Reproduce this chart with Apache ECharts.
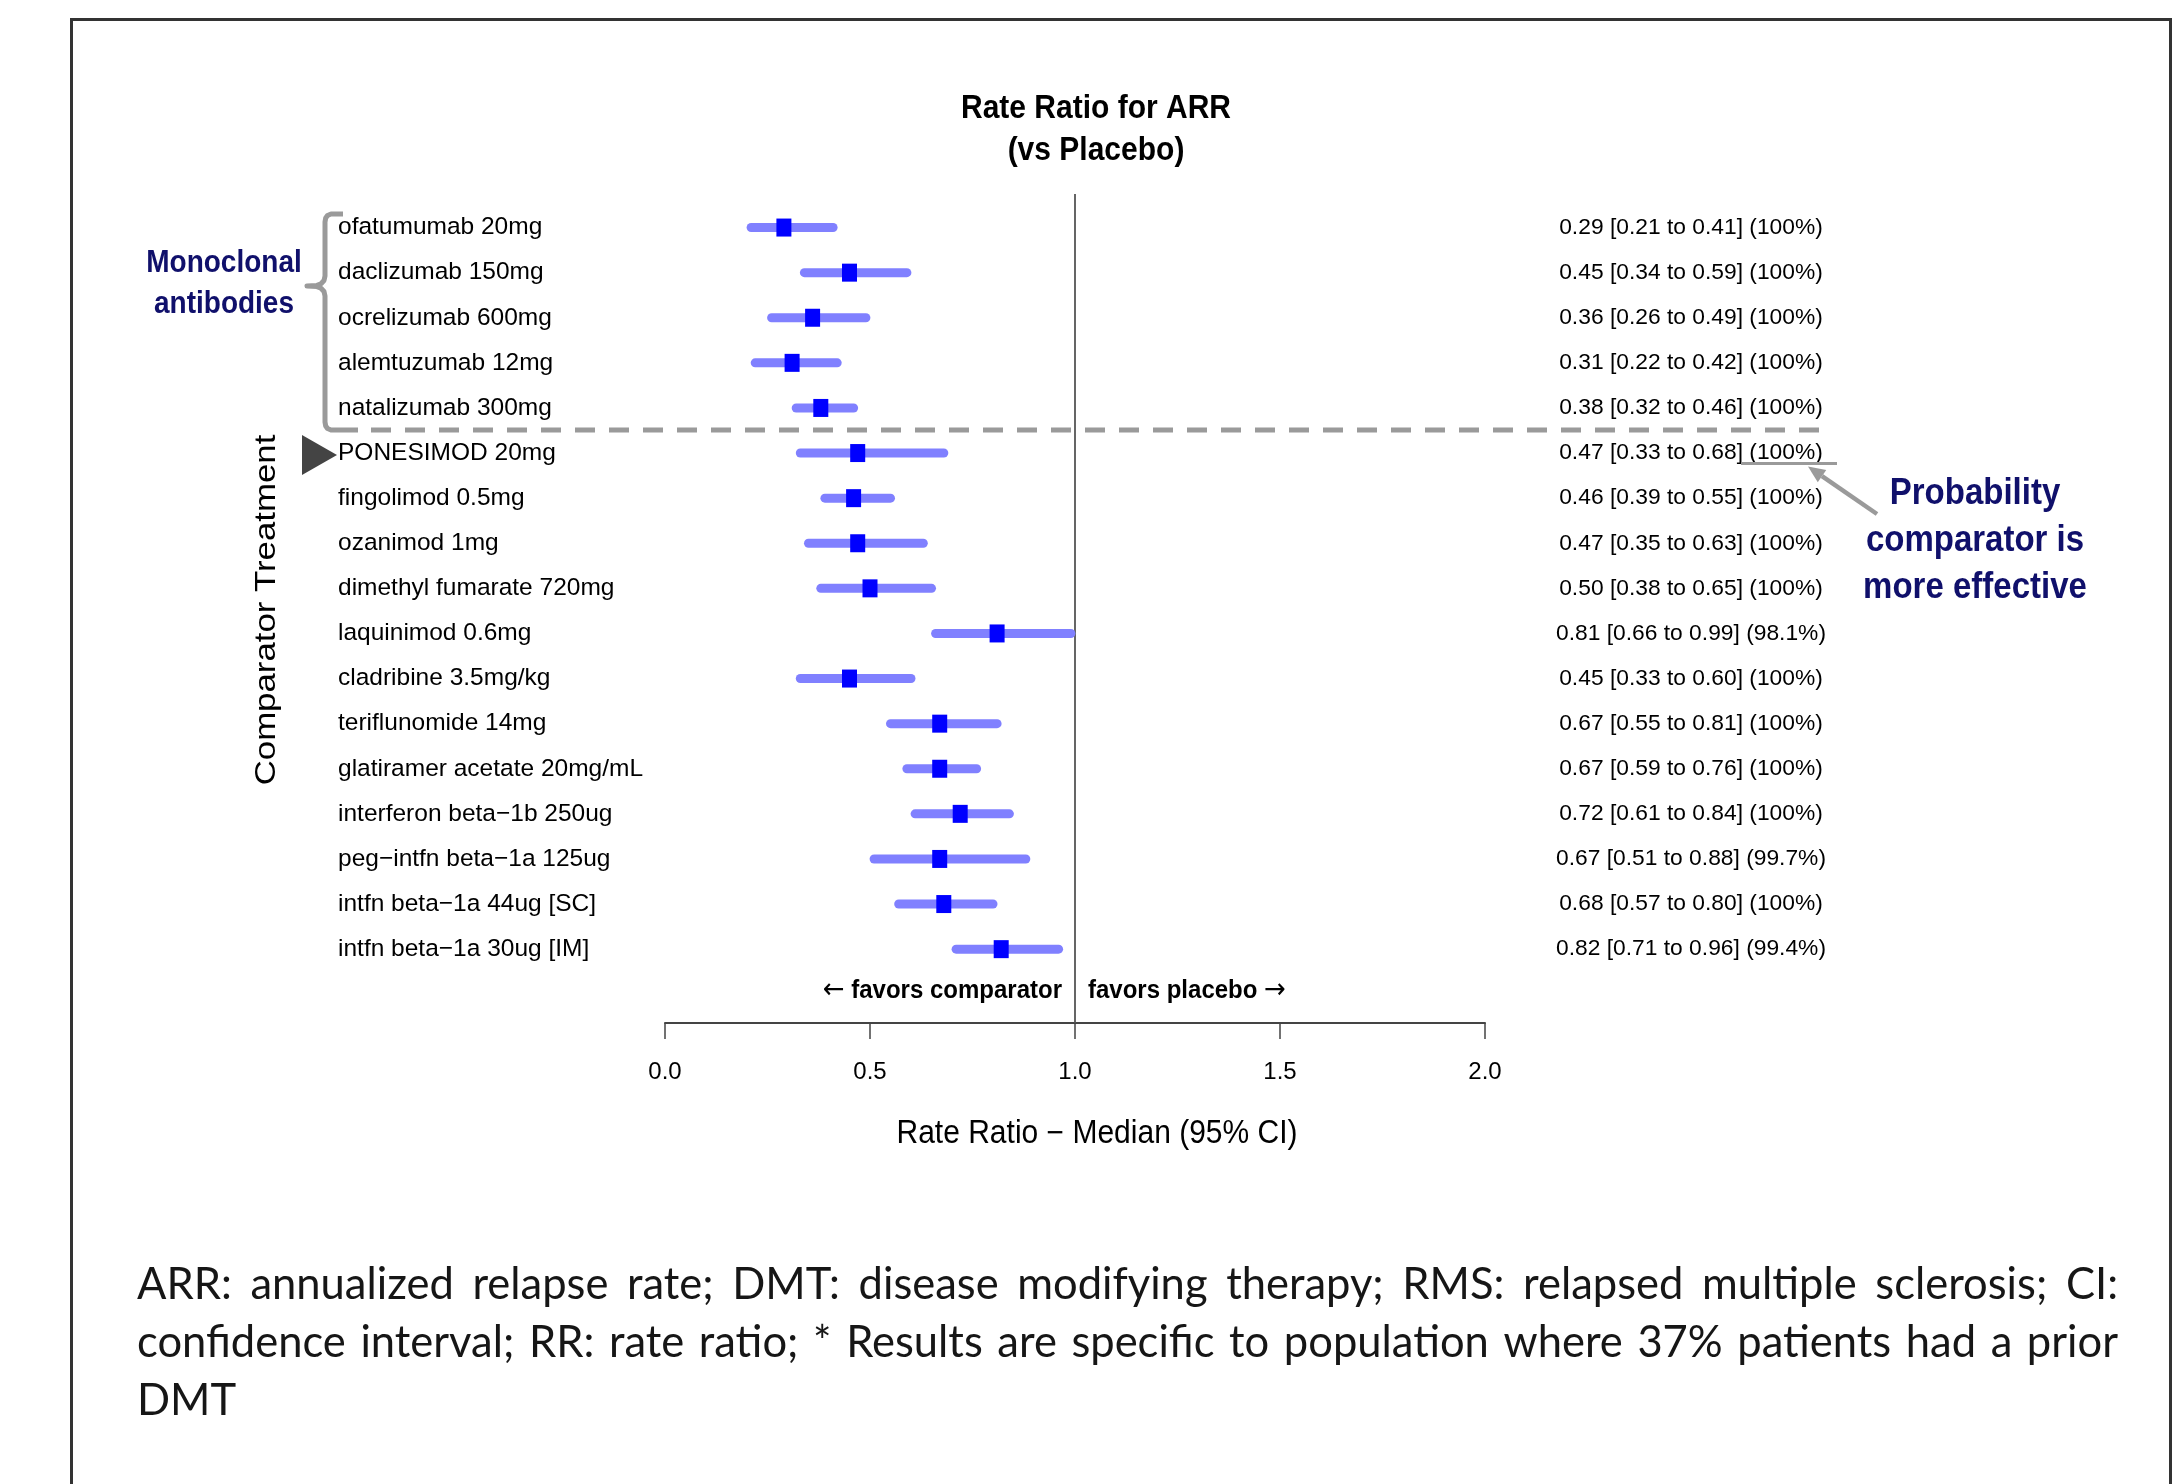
<!DOCTYPE html>
<html>
<head>
<meta charset="utf-8">
<script src="https://cdn.jsdelivr.net/npm/echarts@6/dist/echarts.min.js"></script>
<style>
html,body{margin:0;padding:0;background:#fff;}
#chart{width:2178px;height:1484px;}
</style>
</head>
<body>
<div id="chart"></div>
<script>
// ---------------- data ----------------
const treatments = [
  'ofatumumab 20mg',
  'daclizumab 150mg',
  'ocrelizumab 600mg',
  'alemtuzumab 12mg',
  'natalizumab 300mg',
  'PONESIMOD 20mg',
  'fingolimod 0.5mg',
  'ozanimod 1mg',
  'dimethyl fumarate 720mg',
  'laquinimod 0.6mg',
  'cladribine 3.5mg/kg',
  'teriflunomide 14mg',
  'glatiramer acetate 20mg/mL',
  'interferon beta\u22121b 250ug',
  'peg\u2212intfn beta\u22121a 125ug',
  'intfn beta\u22121a 44ug [SC]',
  'intfn beta\u22121a 30ug [IM]'
];
const medians = [0.29,0.45,0.36,0.31,0.38,0.47,0.46,0.47,0.50,0.81,0.45,0.67,0.67,0.72,0.67,0.68,0.82];
const lower   = [0.21,0.34,0.26,0.22,0.32,0.33,0.39,0.35,0.38,0.66,0.33,0.55,0.59,0.61,0.51,0.57,0.71];
const upper   = [0.41,0.59,0.49,0.42,0.46,0.68,0.55,0.63,0.65,0.99,0.60,0.81,0.76,0.84,0.88,0.80,0.96];
const probBetter = ['100%','100%','100%','100%','100%','100%','100%','100%','100%','98.1%','100%','100%','100%','100%','99.7%','100%','99.4%'];
const xTicks = [0.0, 0.5, 1.0, 1.5, 2.0];
const refValue = 1.0;

const footLines = [
  'ARR: annualized relapse rate; DMT: disease modifying therapy; RMS: relapsed multiple sclerosis; CI:',
  'confidence interval; RR: rate ratio; * Results are specific to population where 37% patients had a prior',
  'DMT'
];

// ---------------- derived ----------------
const rightLabels = medians.map((m, i) =>
  m.toFixed(2) + ' [' + lower[i].toFixed(2) + ' to ' + upper[i].toFixed(2) + '] (' + probBetter[i] + ')');

const FONT = '"Liberation Sans", Arial, Helvetica, sans-serif';
const NAVY = '#10106b';
const GRAY = '#9a9a9a';

const chart = echarts.init(document.getElementById('chart'), null, {renderer: 'canvas'});

const gridTop = 205, rowH = 45.1, nRows = treatments.length;
const gridBottomPx = gridTop + rowH * nRows;
const axisY = 1023;

function txt(text, x, y, opt) {
  const o = Object.assign({size: 24, weight: 'normal', color: '#000', align: 'center', valign: 'middle', family: FONT, lineHeight: null}, opt || {});
  const st = {
    text: text, x: 0, y: 0,
    fontSize: o.size, fontWeight: o.weight, fontFamily: o.family,
    fill: o.color,
    textAlign: o.align, align: o.align,
    textVerticalAlign: o.valign, verticalAlign: o.valign
  };
  if (o.lineHeight) st.lineHeight = o.lineHeight;
  if (o.rich) st.rich = o.rich;
  const el = {type: 'text', x: x, y: y, style: st, z: 100};
  if (o.rotation) el.rotation = o.rotation;
  if (o.scaleX) el.scaleX = o.scaleX;
  if (o.scaleY) el.scaleY = o.scaleY;
  return el;
}

// footnote, justified like the reference
const footFamily = 'Lato, "Open Sans", sans-serif';
const fx0 = 137, fx1 = 2118;
const cnv = document.createElement('canvas').getContext('2d');
function measure(s, size) { cnv.font = size + 'px ' + footFamily; return cnv.measureText(s).width; }
let footSize = 43.5;
while (measure(footLines[1], footSize) > (fx1 - fx0) - 8 && footSize > 20) footSize -= 0.5;
const footY = [1285, 1343, 1401];
const footEls = [];
footLines.forEach((line, li) => {
  const words = line.split(' ');
  const ws = words.map(w => measure(w, footSize));
  const sum = ws.reduce((a, b) => a + b, 0);
  const justify = li < footLines.length - 1 && words.length > 1;
  const gap = justify ? (fx1 - fx0 - sum) / (words.length - 1) : measure(' ', footSize);
  let x = fx0;
  words.forEach((w, wi) => {
    footEls.push(txt(w, x, footY[li], {size: footSize, family: footFamily, color: '#161616', align: 'left'}));
    x += ws[wi] + gap;
  });
});

// arrow geometry for annotation
const tip = [1808, 466.5], tail = [1877, 514];
const dx = tip[0] - tail[0], dy = tip[1] - tail[1];
const len = Math.sqrt(dx*dx + dy*dy), ux = dx/len, uy = dy/len;
const headL = 17, headW = 7.5;
const base = [tip[0] - headL*ux, tip[1] - headL*uy];
const px = -uy, py = ux;

const arrowRich = {ar: {fontSize: 26, fontWeight: 'normal', fontFamily: '"DejaVu Sans", sans-serif', fill: '#000'}};

const graphics = [
  // outer frame
  {type: 'rect', shape: {x: 71.5, y: 19.5, width: 2099, height: 1520}, style: {fill: 'none', stroke: '#333', lineWidth: 3}, z: 1},
  // title
  txt('Rate Ratio for ARR\n(vs Placebo)', 1096, 130, {size: 30, weight: 'bold', lineHeight: 38, scaleY: 1.1}),
  // axis title
  txt('Rate Ratio \u2212 Median (95% CI)', 1097, 1134, {size: 30, scaleY: 1.08}),
  // favors labels
  txt('{ar|\u2190} favors comparator', 1062, 991, {size: 24, weight: 'bold', align: 'right', scaleY: 1.08, rich: arrowRich}),
  txt('favors placebo {ar|\u2192}', 1088, 991, {size: 24, weight: 'bold', align: 'left', scaleY: 1.08, rich: arrowRich}),
  // y axis title (rotated)
  txt('Comparator Treatment', 267, 610, {size: 30, rotation: Math.PI/2, scaleX: 1.16}),
  // group label
  txt('Monoclonal\nantibodies', 224, 284, {size: 28, weight: 'bold', color: NAVY, lineHeight: 37, scaleY: 1.1}),
  // probability annotation
  txt('Probability\ncomparator is\nmore effective', 1975, 541, {size: 33, weight: 'bold', color: NAVY, lineHeight: 43, scaleY: 1.1}),
  // underline and arrow
  {type: 'line', shape: {x1: 1741, y1: 463.5, x2: 1837, y2: 463.5}, style: {stroke: GRAY, lineWidth: 3}, z: 50},
  {type: 'line', shape: {x1: tail[0], y1: tail[1], x2: base[0], y2: base[1]}, style: {stroke: GRAY, lineWidth: 4.5}, z: 50},
  {type: 'polygon', shape: {points: [tip, [base[0] + headW*px, base[1] + headW*py], [base[0] - headW*px, base[1] - headW*py]]}, style: {fill: GRAY}, z: 50},
  // bracket
  {type: 'polyline', shape: {points: [[343,214],[331,214],[327.5,215.5],[325.7,218],[325,222],[325,276],[324,280.5],[321,283.8],[317,285.4],[307,286],[317,286.6],[321,288.2],[324,291.5],[325,296],[325,422],[325.7,426],[327.5,428.5],[331,430],[358,430]]},
    style: {stroke: GRAY, lineWidth: 5, lineJoin: 'round', fill: 'none'}, z: 50},
  // dashed separator
  {type: 'line', shape: {x1: 371, y1: 430, x2: 1825, y2: 430}, style: {stroke: GRAY, lineWidth: 5, lineDash: [20, 14]}, z: 50},
  // marker triangle for PONESIMOD
  {type: 'polygon', shape: {points: [[302,435],[302,475],[337,455]]}, style: {fill: '#444'}, z: 50}
].concat(footEls);

const option = {
  animation: false,
  backgroundColor: '#fff',
  textStyle: {fontFamily: FONT},
  grid: {left: 665, right: 2178 - 1485, top: gridTop, height: rowH * nRows, containLabel: false},
  xAxis: {
    type: 'value', min: 0, max: 2, interval: 0.5,
    offset: axisY - gridBottomPx,
    axisLine: {show: true, lineStyle: {color: '#444', width: 2}},
    axisTick: {show: true, length: 16, lineStyle: {color: '#444', width: 1.5}},
    axisLabel: {show: true, margin: 37, fontSize: 24, color: '#000', fontFamily: FONT,
      formatter: v => (xTicks.indexOf(v) >= 0 ? v.toFixed(1) : '')},
    splitLine: {show: false}
  },
  yAxis: [
    {
      type: 'category', inverse: true, data: treatments,
      axisLine: {show: false}, axisTick: {show: false}, splitLine: {show: false},
      axisLabel: {interval: 0, align: 'left', margin: 665 - 338, fontSize: 24.5, color: '#000', fontFamily: FONT}
    },
    {
      type: 'category', inverse: true, data: rightLabels, position: 'right',
      axisLine: {show: false}, axisTick: {show: false}, splitLine: {show: false},
      axisLabel: {interval: 0, align: 'center', margin: 1691 - 1485, fontSize: 22.8, color: '#000', fontFamily: FONT}
    }
  ],
  series: [
    {
      name: 'ref', type: 'custom', clip: false, silent: true, z: 1,
      data: [[refValue, 0]],
      encode: {x: 0, y: 1},
      renderItem: function (params, api) {
        const cs = params.coordSys;
        const x = api.coord([api.value(0), 0])[0];
        return {type: 'line', shape: {x1: x, y1: 194, x2: x, y2: cs.y + cs.height + (axisY - gridBottomPx)},
          style: {stroke: '#555', lineWidth: 1.8}};
      }
    },
    {
      name: '95% CI', type: 'custom', z: 2,
      data: treatments.map((t, i) => [lower[i], upper[i], i]),
      encode: {x: [0, 1], y: 2},
      renderItem: function (params, api) {
        const a = api.coord([api.value(0), api.value(2)]);
        const b = api.coord([api.value(1), api.value(2)]);
        return {type: 'line', shape: {x1: a[0], y1: a[1], x2: b[0], y2: b[1]},
          style: {stroke: '#8080ff', lineWidth: 9, lineCap: 'round'}};
      }
    },
    {
      name: 'Median', type: 'scatter', z: 3,
      data: medians.map((m, i) => [m, i]),
      symbol: 'rect', symbolSize: [15, 18],
      itemStyle: {color: '#0000ff', opacity: 1}
    }
  ],
  graphic: {elements: graphics}
};
chart.setOption(option);
</script>
</body>
</html>
